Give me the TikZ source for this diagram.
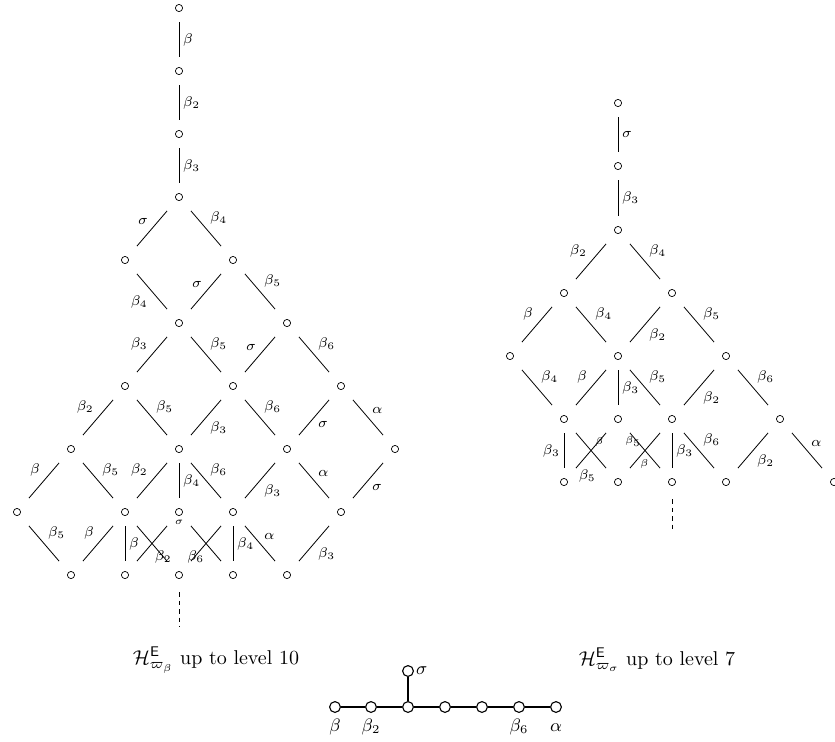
\documentclass[tikz,border=0pt]{standalone}
\usepackage{amsmath,amssymb}
\usepackage{tikz}

\tikzset{
  vtx/.style={circle, draw, minimum size=3.6pt, inner sep=0pt, line width=.35pt},
  vert/.style={shorten <=5.2pt, shorten >=5.2pt},
  diag/.style={shorten <=7.2pt, shorten >=7.2pt},
  tinylab/.style={font=\tiny},
  dyn/.style={circle, draw, minimum size=5.4pt, inner sep=0pt, line width=.55pt},
  dynlab/.style={font=\small, label distance=.5pt, text height=1.6ex, text depth=.3ex}
}

\begin{document}
\begin{tikzpicture}[auto, x=.5pt, y=-.5pt, font=\scriptsize, inner sep=1.9pt]
\useasboundingbox (0,0) rectangle (835,741);

    \node [vtx] (a0) at (179, 8) {};
    \node [vtx] (a1) at (179, 71) {};
    \node [vtx] (a2) at (179, 134) {};
    \node [vtx] (a3) at (179, 197) {};
    \node [vtx] (b1) at (125, 260) {};
    \node [vtx] (b2) at (233, 260) {};
    \node [vtx] (c1) at (179, 323) {};
    \node [vtx] (c2) at (287, 323) {};
    \node [vtx] (d1) at (125, 386) {};
    \node [vtx] (d2) at (233, 386) {};
    \node [vtx] (d3) at (341, 386) {};
    \node [vtx] (e1) at (71, 449) {};
    \node [vtx] (e2) at (179, 449) {};
    \node [vtx] (e3) at (287, 449) {};
    \node [vtx] (e4) at (395, 449) {};
    \node [vtx] (f1) at (17, 512) {};
    \node [vtx] (f2) at (125, 512) {};
    \node [vtx] (f3) at (179, 512) {};
    \node [vtx] (f4) at (233, 512) {};
    \node [vtx] (f5) at (341, 512) {};
    \node [vtx] (g1) at (71, 575) {};
    \node [vtx] (g2) at (125, 575) {};
    \node [vtx] (g3) at (179, 575) {};
    \node [vtx] (g4) at (233, 575) {};
    \node [vtx] (g5) at (287, 575) {};
    \coordinate (h) at (179, 627);

    \draw [vert] (a0) to node {$\beta$} (a1);
    \draw [vert] (a1) to node {$\beta_2$} (a2);
    \draw [vert] (a2) to node {$\beta_3$} (a3);
    \draw [diag] (a3) to node [swap] {$\sigma$} (b1);
    \draw [diag] (a3) to node {$\beta_4$} (b2);
    \draw [diag] (b1) to node [swap] {$\beta_4$} (c1);
    \draw [diag] (b2) to node [swap] {$\sigma$} (c1);
    \draw [diag] (b2) to node {$\beta_5$} (c2);
    \draw [diag] (c1) to node [swap] {$\beta_3$} (d1);
    \draw [diag] (c1) to node {$\beta_5$} (d2);
    \draw [diag] (c2) to node [swap] {$\sigma$} (d2);
    \draw [diag] (c2) to node {$\beta_6$} (d3);
    \draw [diag] (d1) to node [swap] {$\beta_2$} (e1);
    \draw [diag] (d1) to node {$\beta_5$} (e2);
    \draw [diag] (d2) to node {$\beta_3$} (e2);
    \draw [diag] (d2) to node {$\beta_6$} (e3);
    \draw [diag] (d3) to node {$\sigma$} (e3);
    \draw [diag] (d3) to node {$\alpha$} (e4);
    \draw [diag] (e1) to node [swap] {$\beta$} (f1);
    \draw [diag] (e1) to node {$\beta_5$} (f2);
    \draw [diag] (e2) to node [swap] {$\beta_2$} (f2);
    \draw [vert] (e2) to node {$\beta_4$} (f3);
    \draw [diag] (e2) to node {$\beta_6$} (f4);
    \draw [diag] (e3) to node {$\beta_3$} (f4);
    \draw [diag] (e3) to node {$\alpha$} (f5);
    \draw [diag] (e4) to node {$\sigma$} (f5);
    \draw [diag] (f1) to node {$\beta_5$} (g1);
    \draw [diag] (f2) to node [swap] {$\beta$} (g1);
    \draw [vert] (f2) to node {$\beta$} (g2);
    \draw [diag] (f2) to node [pos=.73, anchor=center, inner sep=0pt] {$\beta_2$} (g3);
    \draw [diag] (f3) to node [pos=.12, tinylab, anchor=west] {$\sigma$} (g2);
    \draw [diag] (f3) to node [pos=.55, swap] {$\beta_6$} (g4);
    \draw [diag] (f4) to (g3);
    \draw [vert] (f4) to node {$\beta_4$} (g4);
    \draw [diag] (f4) to node {$\alpha$} (g5);
    \draw [diag] (f5) to node {$\beta_3$} (g5);
    \draw [dashed, dash pattern=on 2.2pt off 2pt, shorten <=6.7pt] (g3) -- (h);

    \node [vtx] (ra0) at (618, 103) {};
    \node [vtx] (ra1) at (618, 166) {};
    \node [vtx] (ra2) at (618, 230) {};
    \node [vtx] (rb1) at (564, 293) {};
    \node [vtx] (rb2) at (672, 293) {};
    \node [vtx] (rc1) at (510, 356) {};
    \node [vtx] (rc2) at (618, 356) {};
    \node [vtx] (rc3) at (726, 356) {};
    \node [vtx] (rd1) at (564, 419) {};
    \node [vtx] (rd2) at (618, 419) {};
    \node [vtx] (rd3) at (672, 419) {};
    \node [vtx] (rd4) at (780, 419) {};
    \node [vtx] (re1) at (564, 482) {};
    \node [vtx] (re2) at (618, 482) {};
    \node [vtx] (re3) at (672, 482) {};
    \node [vtx] (re4) at (726, 482) {};
    \node [vtx] (re5) at (834, 482) {};
    \coordinate (rh) at (672, 530);

    \draw [vert] (ra0) to node {$\sigma$} (ra1);
    \draw [vert] (ra1) to node {$\beta_3$} (ra2);
    \draw [diag] (ra2) to node [swap] {$\beta_2$} (rb1);
    \draw [diag] (ra2) to node {$\beta_4$} (rb2);
    \draw [diag] (rb1) to node [swap] {$\beta$} (rc1);
    \draw [diag] (rb1) to node {$\beta_4$} (rc2);
    \draw [diag] (rb2) to node {$\beta_2$} (rc2);
    \draw [diag] (rb2) to node {$\beta_5$} (rc3);
    \draw [diag] (rc1) to node {$\beta_4$} (rd1);
    \draw [diag] (rc2) to node [swap] {$\beta$} (rd1);
    \draw [vert] (rc2) to node {$\beta_3$} (rd2);
    \draw [diag] (rc2) to node {$\beta_5$} (rd3);
    \draw [diag] (rc3) to node {$\beta_2$} (rd3);
    \draw [diag] (rc3) to node {$\beta_6$} (rd4);
    \draw [vert] (rd1) to node [swap] {$\beta_3$} (re1);
    \draw [diag] (rd1) to node [tinylab] {$\beta$} (re2);
    \draw [diag] (rd2) to node [pos=.8, inner sep=1pt] {$\beta_5$} (re1);
    \draw [diag] (rd2) to node [pos=.62, swap, tinylab, inner sep=1pt] {$\beta$} (re3);
    \draw [diag] (rd3) to node [pos=.5, swap, tinylab] {$\beta_5$} (re2);
    \draw [vert] (rd3) to node {$\beta_3$} (re3);
    \draw [diag] (rd3) to node {$\beta_6$} (re4);
    \draw [diag] (rd4) to node {$\beta_2$} (re4);
    \draw [diag] (rd4) to node {$\alpha$} (re5);
    \draw [dashed, dash pattern=on 2.2pt off 2pt, shorten <=6.7pt] (re3) -- (rh);

    \node [font=\normalsize] (cl) at (216, 660) {$\mathcal{H}^{\mathsf{E}}_{\varpi_\beta}$ up to level 10};
    \node [font=\normalsize] (cr) at (657, 660) {$\mathcal{H}^{\mathsf{E}}_{\varpi_\sigma}$ up to level 7};

    \node [dyn, label={[dynlab]below:$\beta$}] (k1) at (335, 707) {};
    \node [dyn, label={[dynlab]below:$\beta_2$}] (k2) at (371, 707) {};
    \node [dyn] (k3) at (408, 707) {};
    \node [dyn] (k4) at (445, 707) {};
    \node [dyn] (k5) at (482, 707) {};
    \node [dyn, label={[dynlab]below:$\beta_6$}] (k6) at (519, 707) {};
    \node [dyn, label={[dynlab]below:$\alpha$}] (k7) at (556, 707) {};
    \node [dyn, label={[font=\small, label distance=-1pt]right:$\sigma$}] (k8) at (408, 671) {};

    \draw [line width=.55pt] (k1) -- (k2);
    \draw [line width=.55pt] (k2) -- (k3);
    \draw [line width=.55pt] (k3) -- (k4);
    \draw [line width=.55pt] (k4) -- (k5);
    \draw [line width=.55pt] (k5) -- (k6);
    \draw [line width=.55pt] (k6) -- (k7);
    \draw [line width=.55pt] (k3) -- (k8);

  \end{tikzpicture}
\end{document}
